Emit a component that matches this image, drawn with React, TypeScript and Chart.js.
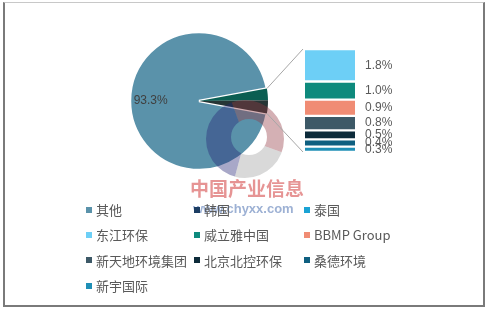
import React, { useEffect, useRef } from 'react';
import { Chart, registerables } from 'chart.js';

Chart.register(...registerables);

// Legend entries (all series) and their colours
const legendLabels = ['其他', '韩国', '泰国', '东江环保', '威立雅中国', 'BBMP Group', '新天地环境集团', '北京北控环保', '桑德环境', '新宇国际'];
const legendColors = ['#5a92aa', '#1c3d63', '#1aa3d4', '#6dcff6', '#0e8a7d', '#f08c74', '#3d5967', '#0d2b3a', '#0e5f80', '#1f8fb6'];

// Pie: main slice + the small wedge that is broken out into the bar
const pieLabels = ['其他', '韩国', '泰国'];
const pieValues = [93.3, 2.7, 3.0];
const pieColors = ['#5a92aa', '#0b5e52', '#263636'];

// Stacked bar (bottom to top)
const barLabels = ['新宇国际', '桑德环境', '北京北控环保', '新天地环境集团', 'BBMP Group', '威立雅中国', '东江环保'];
const barValues = [0.3, 0.4, 0.5, 0.8, 0.9, 1.0, 1.8];

const W = 493;
const H = 314;
const BAR_LEFT = 280;
const BAR_TOP = 40;
const BAR_W = 150;
const BAR_H = 125;

const rad = (d: number) => (d * Math.PI) / 180;

export default function App() {
  const pieRef = useRef<HTMLCanvasElement>(null);
  const barRef = useRef<HTMLCanvasElement>(null);

  useEffect(() => {
    const colorOf = (n: string) => legendColors[legendLabels.indexOf(n)];
    const barTotal = barValues.reduce((a, b) => a + b, 0);

    const barLabelPlugin = {
      id: 'barLabels',
      afterDatasetsDraw(chart: any) {
        const ctx = chart.ctx;
        ctx.save();
        ctx.font = '12px "Liberation Sans", Arial, sans-serif';
        ctx.fillStyle = '#595959';
        ctx.textAlign = 'left';
        ctx.textBaseline = 'middle';
        chart.data.datasets.forEach((ds: any, i: number) => {
          const el: any = chart.getDatasetMeta(i).data[0];
          if (!el) return;
          const y = (el.y + el.base) / 2;
          ctx.fillText(ds.data[0].toFixed(1) + '%', el.x + 35, y);
        });
        ctx.restore();
      },
    };

    const barChart = new Chart(barRef.current as HTMLCanvasElement, {
      type: 'bar',
      data: {
        labels: [''],
        datasets: barLabels.map((l, i) => ({
          label: l,
          data: [barValues[i]],
          backgroundColor: colorOf(l),
          borderColor: '#ffffff',
          borderWidth: { top: 1.5, bottom: 1.5, left: 0, right: 0 },
          borderSkipped: false,
          barThickness: 50,
        })),
      },
      options: {
        responsive: false,
        animation: false,
        layout: { padding: { left: 0, right: 50, top: 9, bottom: 13 } },
        plugins: { legend: { display: false }, tooltip: { enabled: false } },
        scales: {
          x: { stacked: true, display: false },
          y: { stacked: true, display: false, min: 0, max: barTotal },
        },
      },
      plugins: [barLabelPlugin],
    } as any);

    const pieTotal = pieValues.reduce((a, b) => a + b, 0);
    const wedgeDeg = (360 * (pieTotal - pieValues[0])) / pieTotal;
    const rotation = 90 + wedgeDeg / 2;

    const pieExtras = {
      id: 'pieExtras',
      afterDatasetsDraw(chart: any) {
        const ctx = chart.ctx;
        const meta = chart.getDatasetMeta(0);
        const arcs: any[] = meta.data;
        const main = arcs[0];
        const cx = main.x;
        const cy = main.y;
        const r = main.outerRadius;

        // watermark logo ring
        const lx = 245, ly = 139, R = 39, hx = 249, hy = 137, hr = 18;
        const segs = [
          { a0: -110, a1: 20, color: 'rgba(147,57,67,0.4)' },
          { a0: 20, a1: 105, color: 'rgba(128,128,128,0.3)' },
          { a0: 105, a1: 250, color: 'rgba(37,37,117,0.4)' },
        ];
        segs.forEach((s) => {
          ctx.save();
          ctx.beginPath();
          ctx.moveTo(lx, ly);
          ctx.arc(lx, ly, R + 3, rad(s.a0), rad(s.a1));
          ctx.closePath();
          ctx.clip();
          ctx.beginPath();
          ctx.arc(lx, ly, R, 0, Math.PI * 2);
          ctx.moveTo(hx + hr, hy);
          ctx.arc(hx, hy, hr, 0, Math.PI * 2);
          ctx.fillStyle = s.color;
          ctx.fill('evenodd');
          ctx.restore();
        });

        // connector lines from wedge to bar
        const pieRect = chart.canvas.getBoundingClientRect();
        const barRect = barChart.canvas.getBoundingClientRect();
        const dx = barRect.left - pieRect.left;
        const dy = barRect.top - pieRect.top;
        const topEl: any = barChart.getDatasetMeta(barLabels.length - 1).data[0];
        const botEl: any = barChart.getDatasetMeta(0).data[0];
        const first = arcs[1];
        const last = arcs[arcs.length - 1];
        const p1 = { x: cx + r * Math.cos(first.startAngle), y: cy + r * Math.sin(first.startAngle) };
        const p2 = { x: cx + r * Math.cos(last.endAngle), y: cy + r * Math.sin(last.endAngle) };
        const b1 = { x: topEl.x - topEl.width / 2 + dx - 2, y: topEl.y + dy };
        const b2 = { x: botEl.x - botEl.width / 2 + dx - 2, y: botEl.base + dy };
        ctx.save();
        ctx.strokeStyle = '#a6a6a6';
        ctx.lineWidth = 1;
        ctx.beginPath();
        ctx.moveTo(p1.x, p1.y);
        ctx.lineTo(b1.x, b1.y);
        ctx.moveTo(p2.x, p2.y);
        ctx.lineTo(b2.x, b2.y);
        ctx.stroke();
        ctx.restore();

        // main slice label
        const mid = (main.startAngle + main.endAngle) / 2;
        ctx.save();
        ctx.font = '12px "Liberation Sans", Arial, sans-serif';
        ctx.fillStyle = '#404040';
        ctx.textAlign = 'center';
        ctx.textBaseline = 'middle';
        ctx.fillText(
          pieValues[0].toFixed(1) + '%',
          cx + r * 0.7 * Math.cos(mid),
          cy + r * 0.7 * Math.sin(mid)
        );
        ctx.restore();
      },
    };

    const pieChart = new Chart(pieRef.current as HTMLCanvasElement, {
      type: 'pie',
      data: {
        labels: pieLabels,
        datasets: [
          {
            data: pieValues,
            backgroundColor: pieColors,
            borderColor: '#ffffff',
            borderWidth: [2.5, 0, 0],
          },
        ],
      },
      options: {
        responsive: false,
        animation: false,
        radius: 69,
        rotation,
        layout: { padding: { left: 0, right: 95, top: 0, bottom: 112 } },
        plugins: { legend: { display: false }, tooltip: { enabled: false } },
      },
      plugins: [pieExtras],
    } as any);

    return () => {
      pieChart.destroy();
      barChart.destroy();
    };
  }, []);

  return (
    <div
      style={{
        position: 'fixed',
        left: 0,
        top: 0,
        width: W,
        height: H,
        background: '#ffffff',
        overflow: 'hidden',
      }}
    >
      <div
        style={{
          position: 'absolute',
          left: 3,
          top: 2,
          width: 482,
          height: 305,
          boxSizing: 'border-box',
          borderLeft: '2px solid #7a7a7a',
          borderRight: '2px solid #7a7a7a',
          borderBottom: '2px solid #7a7a7a',
          borderTop: '1px solid #c8c8c8',
        }}
      />
      <canvas
        ref={pieRef}
        width={W}
        height={H}
        style={{ position: 'absolute', left: 0, top: 0, width: W, height: H }}
      />
      <canvas
        ref={barRef}
        width={BAR_W}
        height={BAR_H}
        style={{ position: 'absolute', left: BAR_LEFT, top: BAR_TOP, width: BAR_W, height: BAR_H }}
      />
      <div
        style={{
          position: 'absolute',
          left: 190,
          top: 176,
          font: 'bold 19px "Noto Sans CJK SC", sans-serif',
          color: 'rgba(210,60,60,0.55)',
          lineHeight: '24px',
          whiteSpace: 'nowrap',
          pointerEvents: 'none',
        }}
      >
        中国产业信息
      </div>
      <div
        style={{
          position: 'absolute',
          left: 193,
          top: 201,
          font: 'bold 13px "Liberation Sans", Arial, sans-serif',
          color: 'rgba(60,100,170,0.5)',
          lineHeight: '16px',
          whiteSpace: 'nowrap',
          pointerEvents: 'none',
        }}
      >
        www.chyxx.com
      </div>
      <div
        style={{
          position: 'absolute',
          left: 86,
          top: 197,
          display: 'grid',
          gridTemplateColumns: '108px 110px 130px',
          gridAutoRows: '25.3px',
          font: '13px "Noto Sans CJK SC", sans-serif',
          color: '#595959',
        }}
      >
        {legendLabels.map((l, i) => (
          <div key={l} style={{ display: 'flex', alignItems: 'center', whiteSpace: 'nowrap' }}>
            <span
              style={{
                display: 'inline-block',
                width: 6,
                height: 6,
                background: legendColors[i],
                marginRight: 4,
                flex: 'none',
              }}
            />
            <span>{l}</span>
          </div>
        ))}
      </div>
    </div>
  );
}
